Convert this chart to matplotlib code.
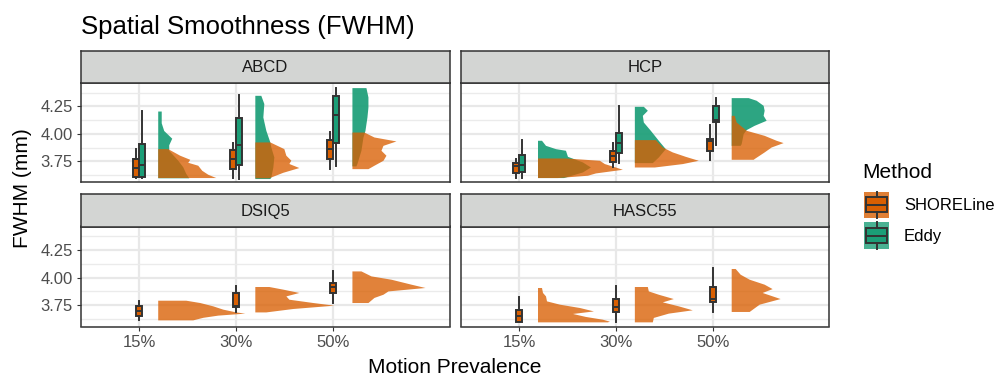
"""Spatial smoothness (FWHM) raincloud panels: half violins + boxplots per dataset."""
import numpy as np
import matplotlib
matplotlib.use("Agg")
import matplotlib.pyplot as plt
from matplotlib.legend_handler import HandlerBase
from matplotlib.patches import Patch, Rectangle
from matplotlib.lines import Line2D

plt.rcParams["font.family"] = ["Liberation Sans", "DejaVu Sans"]

DATASETS = ["ABCD", "HCP", "DSIQ5", "HASC55"]
PREVALENCE = ["15%", "30%", "50%"]
METHODS = ["SHORELine", "Eddy"]

# boxplot stats per prevalence: (lower whisker, q1, median, q3, upper whisker)
ABCD_SHORELINE_BOX = [(3.600, 3.605, 3.693, 3.768, 3.865),
                      (3.602, 3.683, 3.775, 3.850, 3.920),
                      (3.683, 3.768, 3.859, 3.941, 4.016)]
ABCD_EDDY_BOX = [(3.600, 3.605, 3.720, 3.907, 4.207),
                 (3.593, 3.714, 3.900, 4.144, 4.350),
                 (3.708, 3.920, 4.168, 4.341, 4.420)]
HCP_SHORELINE_BOX = [(3.602, 3.644, 3.705, 3.735, 3.775),
                     (3.698, 3.744, 3.795, 3.841, 3.917),
                     (3.759, 3.844, 3.935, 3.956, 4.077)]
HCP_EDDY_BOX = [(3.602, 3.653, 3.720, 3.811, 3.941),
                (3.738, 3.829, 3.917, 4.007, 4.250),
                (3.895, 4.107, 4.130, 4.250, 4.329)]
DSIQ5_SHORELINE_BOX = [(3.617, 3.653, 3.698, 3.744, 3.789),
                       (3.689, 3.735, 3.745, 3.858, 3.919),
                       (3.774, 3.858, 3.910, 3.955, 4.055)]
HASC55_SHORELINE_BOX = [(3.594, 3.599, 3.653, 3.708, 3.820),
                        (3.599, 3.689, 3.730, 3.810, 3.919),
                        (3.689, 3.783, 3.804, 3.915, 4.082)]

# violin profiles per prevalence: (FWHM, relative density)
ABCD_SHORELINE_VIOLIN = [
    [(3.865, 10), (3.805, 22), (3.768, 32), (3.741, 30), (3.714, 40),
     (3.668, 44), (3.632, 50), (3.602, 58)],
    [(3.926, 15), (3.865, 29), (3.805, 31), (3.760, 36), (3.730, 34),
     (3.693, 44), (3.650, 28), (3.600, 14)],
    [(4.016, 12), (3.971, 22), (3.935, 44), (3.895, 31), (3.850, 29),
     (3.805, 34), (3.759, 31), (3.714, 22), (3.683, 16)],
]
ABCD_EDDY_VIOLIN = [
    [(4.207, 3.5), (4.100, 3.5), (4.030, 6), (3.960, 14), (3.900, 11),
     (3.850, 11), (3.760, 20), (3.700, 25), (3.640, 28), (3.600, 31)],
    [(4.350, 6), (4.275, 9), (4.153, 8), (4.032, 11), (3.926, 15),
     (3.880, 16), (3.789, 19), (3.698, 18), (3.607, 16), (3.593, 15)],
    [(4.420, 14), (4.335, 16), (4.244, 16), (4.153, 15), (4.030, 13),
     (3.970, 11), (3.850, 9), (3.730, 5), (3.708, 4)],
]
HCP_SHORELINE_VIOLIN = [
    [(3.780, 28), (3.759, 62), (3.729, 67), (3.698, 78), (3.677, 85),
     (3.644, 58), (3.623, 50), (3.602, 20)],
    [(3.947, 21), (3.880, 28), (3.835, 38), (3.795, 51), (3.759, 64),
     (3.729, 48), (3.698, 20)],
    [(4.168, 3), (4.107, 5), (4.032, 15), (3.986, 33), (3.941, 45),
     (3.920, 52), (3.880, 40), (3.835, 33), (3.775, 23), (3.768, 22)],
]
HCP_EDDY_VIOLIN = [
    [(3.941, 4), (3.895, 8), (3.865, 18), (3.850, 28), (3.795, 30),
     (3.744, 45), (3.698, 53), (3.653, 45), (3.607, 28), (3.602, 26)],
    [(4.250, 9), (4.214, 13), (4.168, 8), (4.107, 9), (4.032, 16),
     (3.941, 24), (3.865, 31), (3.789, 24), (3.738, 18)],
    [(4.329, 17), (4.305, 25), (4.259, 32), (4.214, 33), (4.168, 32),
     (4.123, 35), (4.077, 23), (4.038, 15), (4.002, 12), (3.911, 10),
     (3.895, 9)],
]
DSIQ5_SHORELINE_VIOLIN = [
    [(3.795, 28), (3.774, 42), (3.744, 55), (3.714, 65), (3.689, 78),
     (3.678, 87), (3.660, 60), (3.640, 45), (3.617, 35)],
    [(3.919, 14), (3.895, 28), (3.865, 44), (3.834, 31), (3.804, 34),
     (3.774, 58), (3.750, 79), (3.720, 38), (3.689, 11)],
    [(4.060, 9), (4.015, 19), (3.985, 39), (3.940, 59), (3.910, 73),
     (3.879, 36), (3.849, 31), (3.820, 22), (3.774, 16)],
]
HASC55_SHORELINE_VIOLIN = [
    [(3.910, 4), (3.865, 5), (3.834, 8), (3.789, 9), (3.759, 22),
     (3.729, 42), (3.698, 56), (3.675, 35), (3.648, 48), (3.623, 65),
     (3.605, 72), (3.599, 70)],
    [(3.919, 13), (3.879, 14), (3.849, 24), (3.810, 39), (3.780, 28),
     (3.744, 44), (3.708, 58), (3.678, 34), (3.639, 19), (3.599, 18)],
    [(4.082, 4), (4.030, 9), (3.985, 18), (3.940, 33), (3.900, 41),
     (3.865, 31), (3.810, 49), (3.759, 28), (3.693, 18)],
]

BOXES = {
    ("ABCD", "SHORELine"): ABCD_SHORELINE_BOX, ("ABCD", "Eddy"): ABCD_EDDY_BOX,
    ("HCP", "SHORELine"): HCP_SHORELINE_BOX, ("HCP", "Eddy"): HCP_EDDY_BOX,
    ("DSIQ5", "SHORELine"): DSIQ5_SHORELINE_BOX,
    ("HASC55", "SHORELine"): HASC55_SHORELINE_BOX,
}
VIOLINS = {
    ("ABCD", "SHORELine"): ABCD_SHORELINE_VIOLIN, ("ABCD", "Eddy"): ABCD_EDDY_VIOLIN,
    ("HCP", "SHORELine"): HCP_SHORELINE_VIOLIN, ("HCP", "Eddy"): HCP_EDDY_VIOLIN,
    ("DSIQ5", "SHORELine"): DSIQ5_SHORELINE_VIOLIN,
    ("HASC55", "SHORELine"): HASC55_SHORELINE_VIOLIN,
}

COLORS = {"SHORELine": "#D95F02", "Eddy": "#1B9E77"}
VIOLIN_ALPHA = {"SHORELine": 0.78, "Eddy": 0.92}
DARK = "#333333"
DENS_SCALE = 1 / 97      # relative density -> category units
NUDGE = 0.19             # violins sit right of the boxes
BOX_W = 0.062

W, H = 996, 377


def px_rect(x, y, w, h):
    return [x / W, 1 - (y + h) / H, w / W, h / H]


class BoxKey(HandlerBase):
    """ggplot-style legend key: violin fill behind a small boxplot."""
    def create_artists(self, legend, orig, xd, yd, width, height, fontsize, trans):
        x0, y0 = -xd, -yd
        fc = orig.get_facecolor()
        lw = 1.4
        bg = Rectangle((x0, y0), width, height, fc=fc, alpha=0.8, ec="none",
                       transform=trans)
        box = Rectangle((x0 + 0.07 * width, y0 + 0.22 * height), 0.86 * width,
                        0.56 * height, fc=fc, ec=DARK, lw=lw, transform=trans)
        med = Line2D([x0 + 0.07 * width, x0 + 0.93 * width], [y0 + height / 2] * 2,
                     color=DARK, lw=lw, transform=trans)
        lo = Line2D([x0 + width / 2] * 2, [y0, y0 + 0.22 * height], color=DARK,
                    lw=lw, transform=trans)
        hi = Line2D([x0 + width / 2] * 2, [y0 + 0.78 * height, y0 + height],
                    color=DARK, lw=lw, transform=trans)
        return [bg, box, med, lo, hi]


fig = plt.figure(figsize=(W / 100, H / 100), dpi=100)

panels = [(81, 83, 369, 99.5), (461, 83, 368, 99.5),
          (81, 226.5, 369, 100), (461, 226.5, 368, 100)]
strip_h = 32.5

for k, (ds, (px, py, pw, ph)) in enumerate(zip(DATASETS, panels)):
    ax = fig.add_axes(px_rect(px, py, pw, ph))
    st = fig.add_axes(px_rect(px, py - strip_h, pw, strip_h))
    st.set_facecolor("#D3D5D3")
    st.set_xticks([]); st.set_yticks([])
    for s in st.spines.values():
        s.set_color(DARK); s.set_linewidth(1.1)
    st.text(0.5, 0.47, ds, ha="center", va="center", fontsize=12,
            color="#1A1A1A", transform=st.transAxes)

    present = [m for m in METHODS if (ds, m) in BOXES]
    xs = np.arange(1, len(PREVALENCE) + 1)

    # half violins, Eddy underneath
    for m in present[::-1]:
        for x, prof in zip(xs, VIOLINS[(ds, m)]):
            p = np.array(sorted(prof))
            ax.fill_betweenx(p[:, 0], x + NUDGE, x + NUDGE + p[:, 1] * DENS_SCALE,
                             color=COLORS[m], alpha=VIOLIN_ALPHA[m], lw=0, zorder=2)

    # dodged boxplots
    n = len(present)
    for j, m in enumerate(present):
        off = (j - (n - 1) / 2) * BOX_W
        stats = [dict(whislo=a, q1=b, med=c, q3=d, whishi=e, fliers=[])
                 for a, b, c, d, e in BOXES[(ds, m)]]
        ax.bxp(stats, positions=xs + off, widths=BOX_W, patch_artist=True,
               showcaps=False, showfliers=False, manage_ticks=False, zorder=3,
               boxprops=dict(facecolor=COLORS[m], edgecolor=DARK, lw=1.4),
               whiskerprops=dict(color=DARK, lw=1.4),
               medianprops=dict(color=DARK, lw=1.4))

    ax.set_xlim(0.4, 4.2)
    ax.set_ylim(3.557, 4.462)
    ax.set_xticks(xs)
    ax.set_xticklabels(PREVALENCE)
    ax.set_yticks([3.75, 4.0, 4.25])
    ax.set_yticklabels(["3.75", "4.00", "4.25"])
    ax.set_yticks([3.625, 3.875, 4.125, 4.375], minor=True)
    ax.grid(which="major", color="#E8E8E8", lw=1.6, zorder=0)
    ax.grid(which="minor", axis="y", color="#EBEBEB", lw=1.0, zorder=0)
    ax.set_axisbelow(True)
    for s in ax.spines.values():
        s.set_color(DARK); s.set_linewidth(1.1)
    ax.tick_params(which="major", length=2.9, width=0.8, color=DARK,
                   labelcolor="#4D4D4D", labelsize=12, pad=3)
    ax.tick_params(which="minor", length=0)
    if k < 2:
        ax.tick_params(axis="x", length=0, labelbottom=False)
    if k % 2 == 1:
        ax.tick_params(axis="y", length=0, labelleft=False)

fig.text(81 / W, 1 - 34 / H, "Spatial Smoothness (FWHM)", fontsize=18.5,
         va="baseline", ha="left")
fig.text(455 / W, 1 - 373 / H, "Motion Prevalence", fontsize=15,
         va="baseline", ha="center")
fig.text(22 / W, 1 - 188 / H, "FWHM (mm)", fontsize=15, rotation=90,
         va="center", ha="center")
fig.text(862 / W, 1 - 178 / H, "Method", fontsize=15, va="baseline", ha="left")

handles = [Patch(facecolor=COLORS[m]) for m in METHODS]
fig.legend(handles, METHODS, handler_map={Patch: BoxKey()},
           loc="upper left", bbox_to_anchor=(864 / W, 1 - 191.5 / H),
           frameon=False, borderpad=0, borderaxespad=0, fontsize=12,
           handlelength=1.5, handleheight=2.08, handletextpad=0.9,
           labelspacing=0.26)

fig.savefig("out.png", dpi=100)
